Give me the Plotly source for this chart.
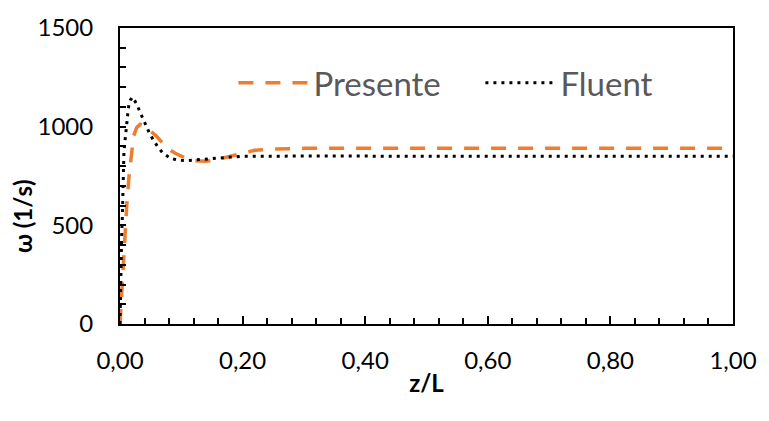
import plotly.graph_objects as go

# Presente (orange dashed)
presente_x = [0.0, 0.001, 0.003, 0.0055, 0.008, 0.011, 0.0145, 0.018, 0.022, 0.027, 0.033, 0.04,
              0.05, 0.06, 0.07, 0.08, 0.09, 0.10, 0.11, 0.12, 0.13, 0.14, 0.15, 0.16, 0.17,
              0.18, 0.19, 0.20, 0.22, 0.25, 0.30, 0.40, 0.50, 0.60, 0.70, 0.80, 0.90, 1.00]
presente_y = [0, 60, 200, 320, 450, 600, 740, 860, 950, 995, 1012, 1005,
              980, 950, 915, 885, 865, 848, 836, 828, 825, 825, 828, 835, 845,
              852, 858, 866, 880, 887, 890, 890, 890, 890, 890, 890, 890, 890]

# Fluent (black dotted)
fluent_x = [0.0, 0.001, 0.0016, 0.0027, 0.0037, 0.0045, 0.0054, 0.0064, 0.0075, 0.0086, 0.0097,
            0.0118, 0.013, 0.0145, 0.017, 0.0204, 0.027, 0.032, 0.0376, 0.043, 0.048, 0.055,
            0.062, 0.070, 0.082, 0.094, 0.107, 0.121, 0.134, 0.147, 0.16, 0.173, 0.187, 0.20,
            0.30, 0.40, 0.50, 0.60, 0.70, 0.80, 0.90, 1.00]
fluent_y = [0, 200, 376, 446, 528, 690, 790, 869, 909, 950, 992,
            1033, 1074, 1112, 1135, 1150, 1116, 1079, 1041, 1003, 967, 929,
            896, 866, 841, 830, 828, 831, 834, 838, 843, 845, 848, 850,
            851, 850, 850, 850, 850, 850, 850, 850]

FONT = "Lato"

fig = go.Figure()
fig.add_trace(go.Scatter(x=presente_x, y=presente_y, mode="lines", name="Presente",
                         line=dict(color="#ED7D31", width=3.5, dash="15px,12px")))
fig.add_trace(go.Scatter(x=fluent_x, y=fluent_y, mode="lines", name="Fluent",
                         line=dict(color="#000000", width=3, dash="3px,5px")))

fig.update_layout(
    width=769, height=421,
    margin=dict(l=120, r=29, t=21, b=97),
    paper_bgcolor="white", plot_bgcolor="white",
    separators=", ",
    font=dict(family=FONT, size=24, color="#000000"),
    showlegend=True,
    legend=dict(orientation="h", x=0.185, y=0.815, xanchor="left", yanchor="middle",
                font=dict(family=FONT, size=33, color="#595959"),
                itemwidth=70, entrywidth=162, bgcolor="rgba(0,0,0,0)"),
    annotations=[dict(text="<b>ω (1/s)</b>", xref="paper", yref="paper",
                      x=-0.158, y=0.365, textangle=-90, showarrow=False,
                      xanchor="center", yanchor="middle",
                      font=dict(family=FONT, size=24, color="black"))],
)
fig.update_xaxes(range=[0, 1], dtick=0.2, tickformat=".2f",
                 showline=True, linecolor="black", linewidth=2, mirror=True,
                 ticks="inside", ticklen=8, tickwidth=2, tickcolor="black",
                 minor=dict(dtick=0.04, ticks="inside", ticklen=6, tickwidth=2, tickcolor="black"),
                 showgrid=False, zeroline=False,
                 ticklabelstandoff=14,
                 title=dict(text="<b>z/L</b>", font=dict(family=FONT, size=24), standoff=2))
fig.update_yaxes(range=[0, 1500], dtick=500, tickformat="d",
                 showline=True, linecolor="black", linewidth=2, mirror=True,
                 ticks="inside", ticklen=6, tickwidth=2, tickcolor="black",
                 minor=dict(dtick=100, ticks="inside", ticklen=6, tickwidth=2, tickcolor="black"),
                 showgrid=False, zeroline=False,
                 ticklabelstandoff=20)

fig.write_html("out.html")
